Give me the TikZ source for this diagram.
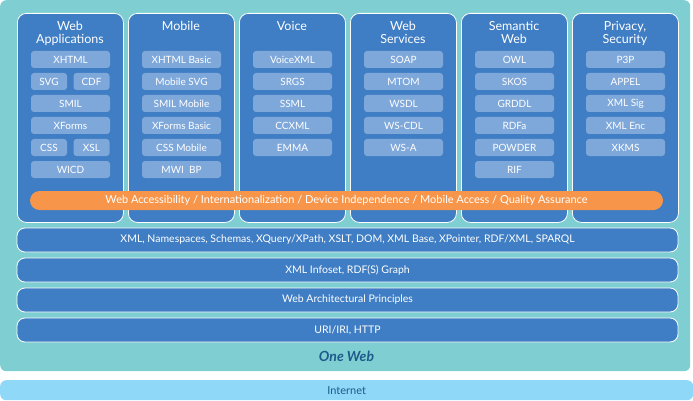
\documentclass[tikz,border=0pt]{standalone}
\usepackage{fontspec}
\setmainfont{Lato}
\definecolor{teal}{HTML}{7FCFD2}
\definecolor{colblue}{HTML}{3F7DC4}
\definecolor{itemblue}{HTML}{7FA8DA}
\definecolor{orangebar}{HTML}{F7964B}
\definecolor{netblue}{HTML}{8FD8F8}
\definecolor{darkblue}{HTML}{1E5A8C}
\begin{document}
\begin{tikzpicture}[x=1pt,y=-1pt,
  colbox/.style={draw=white,line width=0.8pt,fill=colblue,rounded corners=9pt,minimum width=106pt,minimum height=209pt,anchor=north west,inner sep=0pt},
  coltitle/.style={text=white,font=\fontsize{12.5}{13}\selectfont,align=center,anchor=north},
  item/.style={fill=itemblue,rounded corners=3pt,minimum height=17pt,text=white,font=\fontsize{10}{10}\selectfont,inner sep=0pt},
  wide/.style={item,minimum width=79pt},
  half/.style={item,minimum width=36pt},
  layer/.style={draw=white,line width=0.8pt,fill=colblue,rounded corners=8pt,minimum width=661pt,minimum height=24pt,text=white,font=\fontsize{10.5}{11}\selectfont,inner sep=0pt}]
\useasboundingbox (0,0) rectangle (693,401);
\node[fill=teal,rounded corners=6pt,minimum width=690pt,minimum height=371pt,anchor=north west,inner sep=0pt] (bg) at (0,0) {};
\node[fill=netblue,rounded corners=6pt,minimum width=693pt,minimum height=20pt,anchor=north west,inner sep=0pt,text=darkblue,font=\fontsize{11}{12}\selectfont] (net) at (0,380) {Internet};
% columns
\foreach \i/\t in {0/{Web\\Applications},1/{Mobile},2/{Voice},3/{Web\\Services},4/{Semantic\\Web},5/{Privacy,\\Security}}{
  \node[colbox] (c\i) at (17+111*\i,13) {};
  \node[coltitle] (t\i) at (70+111*\i,17.5) {\t};
}
% column 1
\node[wide] (a1) at (70.5,59.5) {XHTML};
\node[half] (a2) at (49,81.5) {SVG};
\node[half] (a3) at (91.5,81.5) {CDF};
\node[wide] (a4) at (70.5,103.5) {SMIL};
\node[wide] (a5) at (70.5,125.5) {XForms};
\node[half] (a6) at (49,147.5) {CSS};
\node[half] (a7) at (91.5,147.5) {XSL};
\node[wide] (a8) at (70.5,169.5) {WICD};
% other columns
\foreach \i/\list in {1/{XHTML Basic,Mobile SVG,SMIL Mobile,XForms Basic,CSS Mobile,MWI\ \ BP},
                      2/{VoiceXML,SRGS,SSML,CCXML,EMMA},
                      3/{SOAP,MTOM,WSDL,WS-CDL,WS-A},
                      4/{OWL,SKOS,GRDDL,RDFa,POWDER,RIF},
                      5/{P3P,APPEL,XML Sig,XML Enc,XKMS}}{
  \foreach \s [count=\k from 0] in \list {
    \node[wide] (b\i\k) at (70.5+111*\i,59.5+22*\k) {\s};
  }
}
\node[fill=orangebar,rounded corners=9.5pt,minimum width=633pt,minimum height=19pt,inner sep=0pt,text=white,font=\fontsize{11}{11}\selectfont] (ob) at (346.5,200.5) {Web Accessibility / Internationalization / Device Independence / Mobile Access / Quality Assurance};
\node[layer] (l1) at (347.5,240) {XML, Namespaces, Schemas, XQuery/XPath, XSLT, DOM, XML Base, XPointer, RDF/XML, SPARQL};
\node[layer] (l2) at (347.5,270) {XML Infoset, RDF(S) Graph};
\node[layer] (l3) at (347.5,300) {Web Architectural Principles};
\node[layer] (l4) at (347.5,330) {URI/IRI, HTTP};
\node[text=darkblue,font=\fontsize{14}{15}\selectfont\bfseries\itshape] (ow) at (346.5,356) {One Web};
\end{tikzpicture}
\end{document}
